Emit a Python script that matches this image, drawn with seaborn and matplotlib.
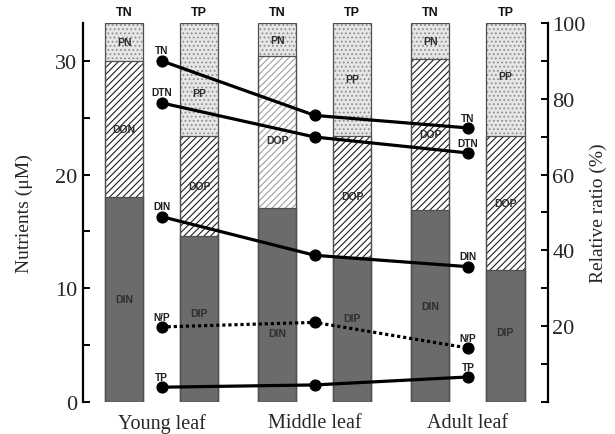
import numpy as np
import pandas as pd
import seaborn as sns
import matplotlib.pyplot as plt
from matplotlib.patches import Rectangle

sns.set_style("white")
plt.rcParams["font.family"] = "serif"
plt.rcParams["font.serif"] = ["Liberation Serif", "DejaVu Serif"]
plt.rcParams["hatch.linewidth"] = 0.8
plt.rcParams["ytick.direction"] = "in"

groups = ["Young leaf", "Middle leaf", "Adult leaf"]

# relative ratio (%) of fractions in TN and TP
din_pct = [54.1, 51.2, 50.7]
don_pct = [35.9, 40.0, 39.8]
dip_pct = [43.8, 38.3, 34.8]
dop_pct = [26.4, 31.9, 35.4]

tn_seg_labels = [["DIN", "DON", "PN"], ["DIN", "DOP", "PN"], ["DIN", "DOP", "PN"]]
tp_seg_labels = [["DIP", "DOP", "PP"], ["DIP", "DOP", "PP"], ["DIP", "DOP", "PP"]]

# concentrations (uM) and N/P ratio
tn_um = [30.0, 25.2, 24.1]
dtn_um = [26.3, 23.3, 21.9]
din_um = [16.3, 12.9, 11.9]
np_ratio = [6.6, 7.0, 4.75]
tp_um = [1.3, 1.5, 2.2]

# small nudges (in %) of the in-bar labels, bottom->top, per bar
label_nudge = [[0, 0, 0], [1.5, 0, -3.5],
               [-7.5, -2, 0], [3, 0, 0],
               [0, 0, 0], [1, 0, 1]]

# long table for the stacked bars (cumulative levels)
rows = []
for i, g in enumerate(groups):
    rows.append({"group": g, "pool": "TN", "lev1": din_pct[i],
                 "lev2": din_pct[i] + don_pct[i], "lev3": 100.0})
    rows.append({"group": g, "pool": "TP", "lev1": dip_pct[i],
                 "lev2": dip_pct[i] + dop_pct[i], "lev3": 100.0})
bars = pd.DataFrame(rows)

fig, ax = plt.subplots(figsize=(6.15, 4.35), dpi=100)
fig.subplots_adjust(left=0.135, right=0.891, bottom=0.0736, top=0.945)
ax2 = ax.twinx()

# lines (left axis)
pos = np.arange(len(groups))
series = [("TN", tn_um, "-"), ("DTN", dtn_um, "-"), ("DIN", din_um, "-"),
          ("N/P", np_ratio, (0, (1, 0.9))), ("TP", tp_um, "-")]
for name, vals, ls in series:
    sns.lineplot(x=pos, y=vals, ax=ax, color="black", lw=2.3, linestyle=ls,
                 marker="o", markersize=8, markeredgecolor="black")
    for j in (0, len(groups) - 1):
        ax.annotate(name, (pos[j], vals[j]), xytext=(0, 7.5), textcoords="offset points",
                    ha="center", va="center", fontsize=7.3, fontweight="bold",
                    family="Liberation Sans", color="#1e1e1e")

# stacked bars (right axis)
layers = {}
for col in ["lev3", "lev2", "lev1"]:
    n0 = len(ax2.patches)
    sns.barplot(data=bars, x="group", y=col, hue="pool", order=groups,
                hue_order=["TN", "TP"], width=0.98, gap=0.49, dodge=True,
                errorbar=None, legend=False, palette=["white", "white"], ax=ax2)
    layers[col] = sorted(ax2.patches[n0:], key=lambda p: p.get_x())

for k, p in enumerate(layers["lev3"]):
    p.set_facecolor("#e6e6e6")
    p.set_hatch("....")
    p.set_edgecolor("#8e8e8e")
    p.set_linewidth(0)
for k, p in enumerate(layers["lev2"]):
    p.set_facecolor("white")
    p.set_hatch("/////")
    p.set_edgecolor("#a0a0a0" if k == 2 else "#202020")
    p.set_linewidth(0)
for p in layers["lev1"]:
    p.set_facecolor("#6b6b6b")
    p.set_hatch(None)
    p.set_linewidth(0)

for col in ["lev3", "lev2", "lev1"]:
    for p in layers[col]:
        ax2.add_patch(Rectangle(p.get_xy(), p.get_width(), p.get_height(),
                                fill=False, edgecolor="#505050", lw=0.9))

# segment and header labels
for k, p in enumerate(layers["lev3"]):
    i, side = divmod(k, 2)
    xc = p.get_x() + p.get_width() / 2
    labels = tp_seg_labels[i] if side else tn_seg_labels[i]
    tops = [layers["lev1"][k].get_height(), layers["lev2"][k].get_height(), 100.0]
    bottoms = [0.0, tops[0], tops[1]]
    for lab, b, t, dy in zip(labels, bottoms, tops, label_nudge[k]):
        ax2.text(xc, (b + t) / 2 + dy, lab, ha="center", va="center", fontsize=7.5,
                 fontweight="bold", family="Liberation Sans", color="#2e2e2e")
    ax2.annotate("TP" if side else "TN", (xc, 100), xytext=(0, 3.5),
                 textcoords="offset points", ha="center", va="bottom",
                 fontsize=9, fontweight="bold", family="Liberation Sans",
                 color="#111111", annotation_clip=False)

ax.set_zorder(ax2.get_zorder() + 1)
ax.patch.set_visible(False)

# axes, ticks, labels
ax.set_ylim(0, 100 / 3)
ax.set_yticks([0, 10, 20, 30])
ax.set_yticks([5, 15, 25], minor=True)
ax.tick_params(axis="y", which="both", direction="in", length=5, width=1.4,
               labelsize=16, pad=4, left=True, right=False, color="black")

ax2.set_ylim(0, 100)
ax2.set_yticks([0, 20, 40, 60, 80, 100], ["", "20", "40", "60", "80", "100"])
ax2.set_yticks([10, 30, 50, 70, 90], minor=True)
ax2.tick_params(axis="y", which="both", direction="in", length=5, width=1.4,
                labelsize=16, pad=3, right=True, left=False, color="black")

ax.set_xlim(-0.513, 2.523)
ax.set_xticks(pos, groups)
ax.tick_params(axis="x", length=0, labelsize=14.5, pad=8)
ax.set_xlabel("")
ax2.set_xlabel("")

for a in (ax, ax2):
    for s in ("top", "bottom"):
        a.spines[s].set_visible(False)
ax.spines["right"].set_visible(False)
ax2.spines["left"].set_visible(False)
ax.spines["left"].set_linewidth(1.6)
ax2.spines["right"].set_linewidth(1.6)
ax.spines["left"].set_color("black")
ax2.spines["right"].set_color("black")

ax.set_ylabel("Nutrients (μM)", fontsize=14)
ax.yaxis.set_label_coords(-0.108, 0.5)
ax2.set_ylabel("Relative ratio (%)", fontsize=14)
ax2.yaxis.set_label_coords(1.09, 0.5)

plt.savefig("out.png", dpi=100)
